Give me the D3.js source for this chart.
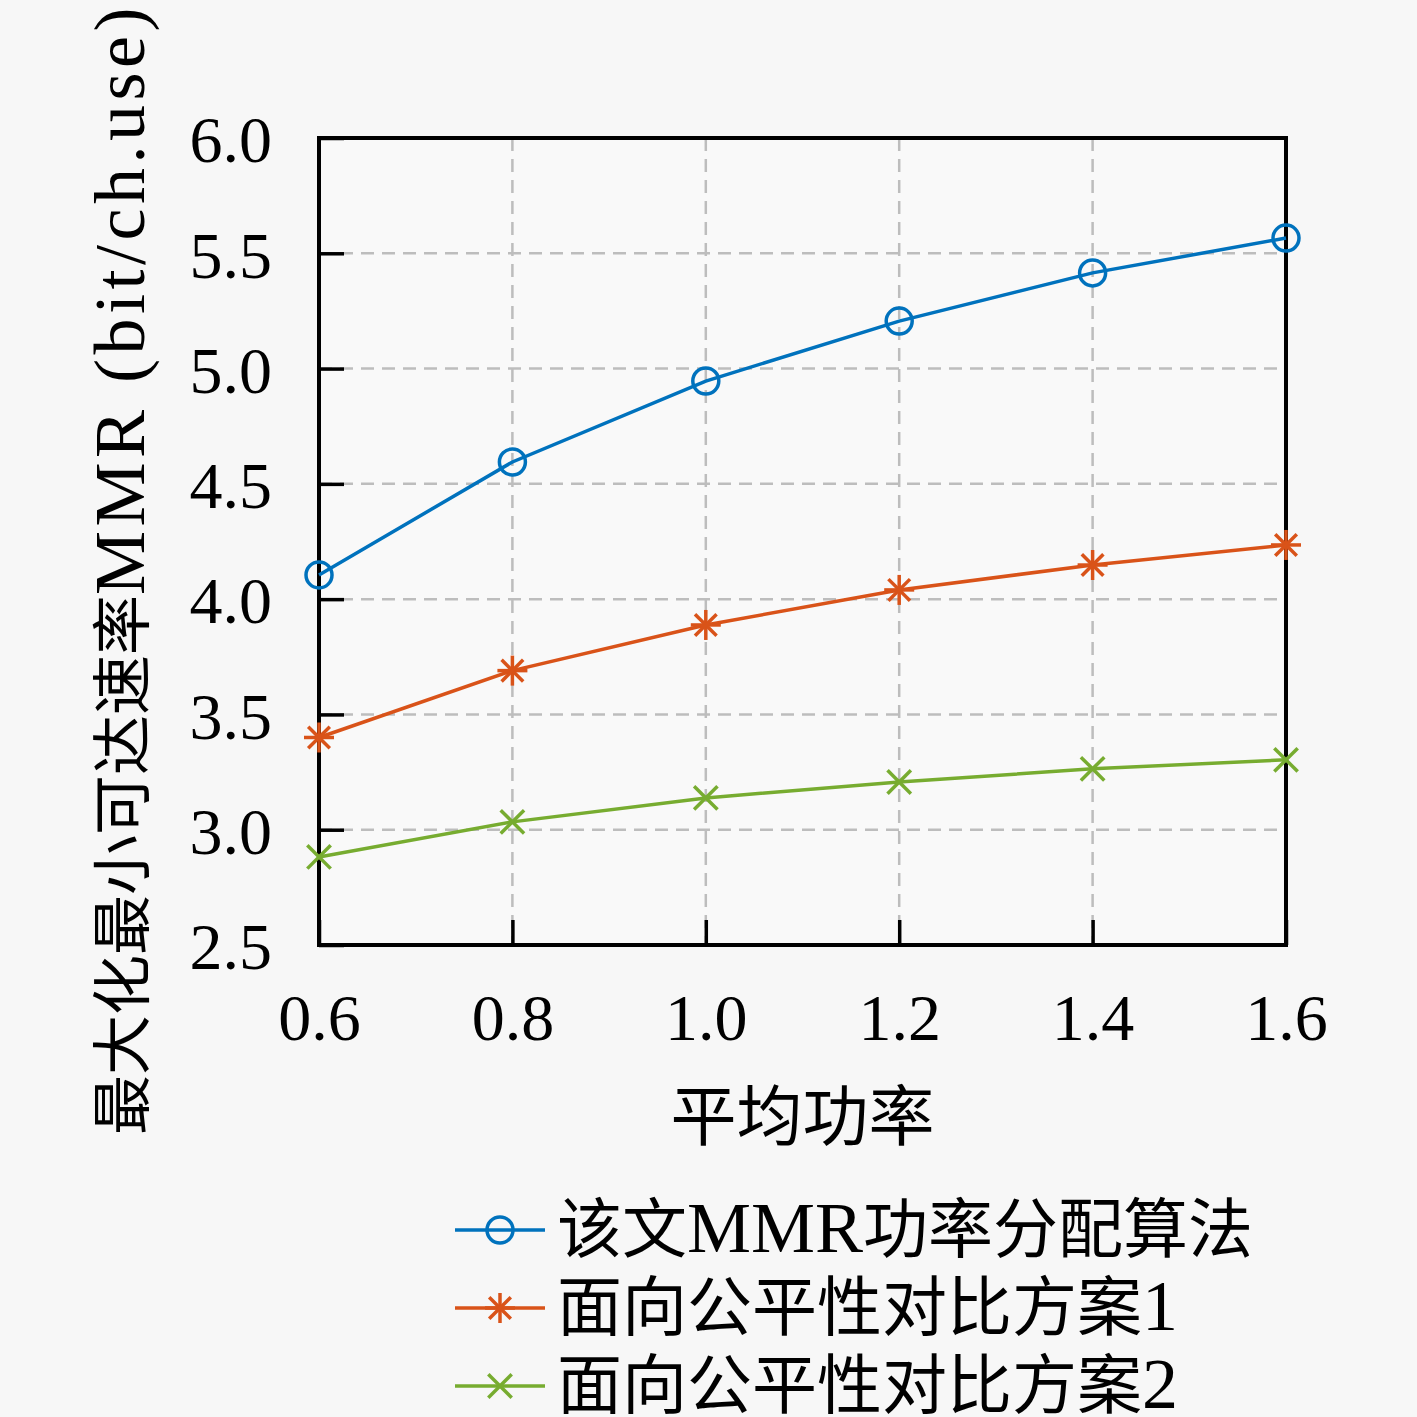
<!DOCTYPE html>
<html>
<head>
<meta charset="utf-8">
<script src="https://cdn.jsdelivr.net/npm/d3@7"></script>
<style>
  html, body { margin: 0; padding: 0; background: #f7f7f7; }
  svg { display: block; }
  text { font-family: "Liberation Serif", "Noto Sans CJK SC", serif; fill: #000; }
</style>
</head>
<body>
<svg id="chart"></svg>
<script>
// data
const powers = [0.6, 0.8, 1.0, 1.2, 1.4, 1.6];
const mmrProposed = [4.105, 4.595, 4.946, 5.206, 5.415, 5.566];
const fairScheme1 = [3.40, 3.69, 3.888, 4.04, 4.148, 4.235];
const fairScheme2 = [2.882, 3.034, 3.138, 3.207, 3.264, 3.303];
const xTicks = [0.6, 0.8, 1.0, 1.2, 1.4, 1.6];
const yTicks = [2.5, 3.0, 3.5, 4.0, 4.5, 5.0, 5.5, 6.0];
const seriesNames = [["该文", "MMR", "功率分配算法"], ["面向公平性对比方案", "1"], ["面向公平性对比方案", "2"]];

const width = 1417, height = 1417;
const margin = { top: 138, right: 131, bottom: 472, left: 319 };
const innerWidth = width - margin.left - margin.right;
const innerHeight = height - margin.top - margin.bottom;

const cjk = "Noto Sans CJK SC";
const latin = "Liberation Serif";
const isCjk = s => /[\u4e00-\u9fff]/.test(s);

const svg = d3.select("#chart")
    .attr("width", width)
    .attr("height", height);

svg.append("rect").attr("width", width).attr("height", height).attr("fill", "#f7f7f7");

const g = svg.append("g")
    .attr("transform", `translate(${margin.left},${margin.top})`);

const x = d3.scaleLinear().domain([0.6, 1.6]).range([0, innerWidth]);
const y = d3.scaleLinear().domain([2.5, 6.0]).range([innerHeight, 0]);

// plot background
g.append("rect")
    .attr("width", innerWidth)
    .attr("height", innerHeight)
    .attr("fill", "#f9f9f9");

// GRID (dashed grey)
g.append("g")
    .selectAll("line")
    .data(xTicks.slice(1, -1))
    .join("line")
    .attr("x1", d => x(d)).attr("x2", d => x(d))
    .attr("y1", 0).attr("y2", innerHeight)
    .attr("stroke", "#bdbdbd")
    .attr("stroke-width", 2.5)
    .attr("stroke-dasharray", "13,8");

g.append("g")
    .selectAll("line")
    .data(yTicks.slice(1, -1))
    .join("line")
    .attr("x1", 0).attr("x2", innerWidth)
    .attr("y1", d => y(d)).attr("y2", d => y(d))
    .attr("stroke", "#bdbdbd")
    .attr("stroke-width", 2.5)
    .attr("stroke-dasharray", "13,8");

// AXES (ticks pointing inward)
const xAxis = g.append("g")
    .attr("transform", `translate(0,${innerHeight})`)
    .call(d3.axisBottom(x).tickValues(xTicks).tickFormat(d3.format(".1f"))
        .tickSizeInner(-25).tickSizeOuter(0).tickPadding(48));
xAxis.select(".domain").remove();
xAxis.selectAll(".tick line").attr("stroke", "#000").attr("stroke-width", 3.5);
xAxis.selectAll(".tick text").attr("font-size", 66).attr("font-family", latin);

const yAxis = g.append("g")
    .call(d3.axisLeft(y).tickValues(yTicks).tickFormat(d3.format(".1f"))
        .tickSizeInner(-25).tickSizeOuter(0).tickPadding(47));
yAxis.select(".domain").remove();
yAxis.selectAll(".tick line").attr("stroke", "#000").attr("stroke-width", 3.5);
yAxis.selectAll(".tick text").attr("font-size", 66).attr("font-family", latin).attr("dy", "0.36em");

// box
g.append("rect")
    .attr("width", innerWidth)
    .attr("height", innerHeight)
    .attr("fill", "none")
    .attr("stroke", "#000")
    .attr("stroke-width", 4);

// SERIES
const series = [
    { name: seriesNames[0], values: mmrProposed, color: "#0072BD", marker: "circle" },
    { name: seriesNames[1], values: fairScheme1, color: "#D95319", marker: "star" },
    { name: seriesNames[2], values: fairScheme2, color: "#77AC30", marker: "cross" }
];

const line = d3.line()
    .x((d, i) => x(powers[i]))
    .y(d => y(d));

function drawMarker(sel, type, color) {
    if (type === "circle") {
        sel.append("circle").attr("r", 13)
            .attr("fill", "none").attr("stroke", color).attr("stroke-width", 3.5);
    } else {
        const s = 15;
        const arms = type === "star"
            ? [[-s, 0, s, 0], [0, -s, 0, s], [-s * 0.72, -s * 0.72, s * 0.72, s * 0.72], [-s * 0.72, s * 0.72, s * 0.72, -s * 0.72]]
            : [[-s * 0.78, -s * 0.78, s * 0.78, s * 0.78], [-s * 0.78, s * 0.78, s * 0.78, -s * 0.78]];
        sel.selectAll("line.arm").data(arms).join("line")
            .attr("class", "arm")
            .attr("x1", d => d[0]).attr("y1", d => d[1])
            .attr("x2", d => d[2]).attr("y2", d => d[3])
            .attr("stroke", color).attr("stroke-width", 3.5);
    }
}

series.forEach(s => {
    g.append("path")
        .datum(s.values)
        .attr("fill", "none")
        .attr("stroke", s.color)
        .attr("stroke-width", 3.5)
        .attr("d", line);

    g.selectAll(null)
        .data(s.values)
        .join("g")
        .attr("transform", (d, i) => `translate(${x(powers[i])},${y(d)})`)
        .each(function() { drawMarker(d3.select(this), s.marker, s.color); });
});

// mixed CJK / Latin text
function mixedText(sel, parts, cjkSize, latinSize, latinSpacing) {
    parts.forEach(p => {
        const t = sel.append("tspan").text(p);
        if (isCjk(p)) t.attr("font-family", cjk).attr("font-size", cjkSize);
        else t.attr("font-family", latin).attr("font-size", latinSize).attr("letter-spacing", latinSpacing);
    });
}

// LABELS
svg.append("text")
    .attr("x", margin.left + innerWidth / 2)
    .attr("y", 1140)
    .attr("text-anchor", "middle")
    .attr("font-size", 66)
    .attr("font-family", cjk)
    .text("平均功率");

const yLabel = svg.append("text")
    .attr("transform", `translate(144,569) rotate(-90)`)
    .attr("text-anchor", "middle");
mixedText(yLabel, ["最大化最小可达速率", "MMR (bit/ch.use)"], 60, 72, 4.5);

// LEGEND
const legend = svg.append("g");
series.forEach((s, i) => {
    const row = legend.append("g").attr("transform", `translate(0,${1230 + i * 78})`);
    row.append("line")
        .attr("x1", 455).attr("x2", 545)
        .attr("stroke", s.color).attr("stroke-width", 3.5);
    drawMarker(row.append("g").attr("transform", "translate(500,0)"), s.marker, s.color);
    const label = row.append("text")
        .attr("x", 557)
        .attr("y", 22);
    mixedText(label, s.name, 65, 72, 0);
});
</script>
</body>
</html>
